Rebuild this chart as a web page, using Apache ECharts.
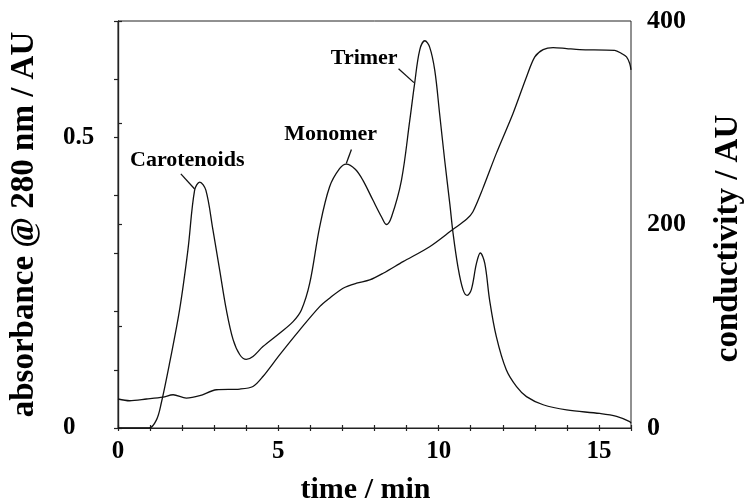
<!DOCTYPE html>
<html>
<head>
<meta charset="utf-8">
<script src="https://cdn.jsdelivr.net/npm/echarts@6/dist/echarts.min.js"></script>
<style>html,body{margin:0;padding:0;background:#fff;}#c{width:745px;height:501px;}</style>
</head>
<body>
<div id="c"></div>
<script>
// absorbance trace (left axis)
var absTime = [0, 0.97, 1.2, 1.35, 1.61, 1.92, 2.18, 2.39, 2.55, 2.74, 2.96, 3.17, 3.38, 3.59, 3.80, 4.0, 4.21, 4.52, 5.04, 5.46, 5.72, 5.98, 6.29, 6.60, 6.91, 7.12, 7.4, 7.64, 7.95, 8.22, 8.37, 8.53, 8.84, 9.10, 9.25, 9.41, 9.57, 9.72, 9.88, 10.03, 10.19, 10.35, 10.45, 10.6, 10.76, 10.89, 11.02, 11.18, 11.30, 11.44, 11.59, 11.80, 12.11, 12.43, 12.74, 13.26, 13.99, 15.03, 15.55, 15.96, 16];
var absValue = [0, 0, 0.014, 0.043, 0.112, 0.203, 0.306, 0.409, 0.423, 0.409, 0.341, 0.272, 0.203, 0.152, 0.126, 0.118, 0.123, 0.140, 0.163, 0.183, 0.203, 0.249, 0.346, 0.415, 0.446, 0.454, 0.445, 0.426, 0.392, 0.363, 0.350, 0.363, 0.426, 0.529, 0.592, 0.650, 0.666, 0.655, 0.615, 0.541, 0.460, 0.385, 0.335, 0.278, 0.238, 0.228, 0.238, 0.283, 0.301, 0.283, 0.220, 0.157, 0.100, 0.071, 0.054, 0.040, 0.031, 0.025, 0.020, 0.011, 0.008];
// conductivity trace (right axis)
var condTime = [0, 0.36, 0.89, 1.40, 1.72, 2.13, 2.55, 3.07, 3.80, 4.21, 4.52, 5.04, 5.67, 6.29, 6.6, 7.02, 7.44, 7.85, 8.27, 8.89, 9.72, 10.45, 10.87, 11.07, 11.38, 11.80, 12.32, 12.74, 13.0, 13.26, 13.57, 13.99, 14.4, 15.49, 15.71, 15.86, 15.96, 16];
var condValue = [28.5, 26.8, 28.5, 30.4, 32.7, 29.4, 31.7, 37.6, 38.3, 40.8, 50.6, 71.9, 96.5, 119.3, 127.6, 137.4, 142.3, 145.5, 152.1, 163.5, 178.2, 195.3, 205.1, 212.6, 235.5, 269.9, 309.1, 345, 364.7, 371.9, 373.9, 372.9, 371.9, 371.2, 368, 364.7, 358.2, 352];
// tick labels
var xTickLabels = [0, 5, 10, 15];
var leftTickLabels = [0, 0.5];
var rightTickLabels = [0, 200, 400];
// annotations (data coordinates on the absorbance axis)
var annoNames = ['Carotenoids', 'Monomer', 'Trimer'];
var annoPos = [[2.16, 0.461], [6.63, 0.505], [7.68, 0.636]];
var leaderFrom = [[1.96, 0.437], [7.28, 0.479], [8.75, 0.618]];
var leaderTo = [[2.39, 0.411], [7.12, 0.455], [9.23, 0.594]];

var FONT = 'Liberation Serif';
var chart = echarts.init(document.getElementById('c'), null, {renderer: 'canvas'});

function pairs(a, b) { return a.map(function (t, i) { return [t, b[i]]; }); }

var lineCol = '#111';
var option = {
  animation: false,
  backgroundColor: '#fff',
  grid: {left: 118, right: 114, top: 21, bottom: 73, show: true, borderColor: '#222', borderWidth: 1,
    containLabel: false, outerBoundsMode: 'none'},
  xAxis: [{
    type: 'value', min: 0, max: 16, interval: 1, position: 'bottom',
    name: 'time / min', nameLocation: 'middle', nameGap: 47,
    nameTextStyle: {fontFamily: FONT, fontWeight: 'bold', fontSize: 30, color: '#000', padding: [0, 18, 0, 0]},
    axisLine: {lineStyle: {color: '#222', width: 1.2}},
    axisTick: {inside: false, length: 3, lineStyle: {color: '#222', width: 1.2}},
    splitLine: {show: false},
    axisLabel: {margin: 11, fontFamily: FONT, fontWeight: 'bold', fontSize: 25, color: '#000',
      formatter: function (v) { return xTickLabels.indexOf(v) >= 0 ? String(v) : ''; }}
  }, {
    type: 'value', min: 0, max: 16, interval: 1, position: 'bottom',
    axisLine: {show: false},
    axisTick: {inside: true, length: 3, lineStyle: {color: '#222', width: 1.2}},
    axisLabel: {show: false}, splitLine: {show: false}
  }],
  yAxis: [{
    type: 'value', min: 0, max: 0.7, interval: 0.1, position: 'left',
    name: 'absorbance @ 280 nm / AU', nameLocation: 'middle', nameGap: 77,
    nameTextStyle: {fontFamily: FONT, fontWeight: 'bold', fontSize: 33, color: '#000'},
    axisLine: {show: true, lineStyle: {color: '#222', width: 1.2}},
    axisTick: {show: true, length: 4, lineStyle: {color: '#222', width: 1.2}},
    splitLine: {show: false},
    axisLabel: {margin: 55, align: 'left', fontFamily: FONT, fontWeight: 'bold', fontSize: 25, color: '#000',
      formatter: function (v) {
        var r = Math.round(v * 10) / 10;
        return leftTickLabels.indexOf(r) >= 0 ? String(r) : '';
      }}
  }, {
    type: 'value', min: 0, max: 400, interval: 100, position: 'right',
    name: 'conductivity / AU', nameLocation: 'middle', nameGap: 81,
    nameTextStyle: {fontFamily: FONT, fontWeight: 'bold', fontSize: 33, color: '#000', padding: [0, 28, 0, 0]},
    axisLine: {show: true, lineStyle: {color: '#222', width: 1.2}},
    axisTick: {show: true, length: 4, lineStyle: {color: '#222', width: 1.2}},
    splitLine: {show: false},
    axisLabel: {margin: 16, fontFamily: FONT, fontWeight: 'bold', fontSize: 26, color: '#000',
      formatter: function (v) { return rightTickLabels.indexOf(v) >= 0 ? String(v) : ''; }}
  }],
  series: [{
    name: 'absorbance', type: 'line', xAxisIndex: 0, yAxisIndex: 0,
    data: pairs(absTime, absValue), showSymbol: false, symbol: 'none', smooth: 0.35,
    lineStyle: {color: lineCol, width: 1.3}, silent: true
  }, {
    name: 'conductivity', type: 'line', xAxisIndex: 0, yAxisIndex: 1,
    data: pairs(condTime, condValue), showSymbol: false, symbol: 'none', smooth: 0.3,
    lineStyle: {color: lineCol, width: 1.3}, silent: true
  }, {
    name: 'leaders', type: 'lines', coordinateSystem: 'cartesian2d', xAxisIndex: 0, yAxisIndex: 0,
    data: leaderFrom.map(function (p, i) { return {coords: [p, leaderTo[i]]}; }),
    lineStyle: {color: lineCol, width: 1.3, opacity: 1}, symbol: 'none', silent: true
  }, {
    name: 'labels', type: 'scatter', xAxisIndex: 0, yAxisIndex: 0,
    data: annoPos.map(function (p, i) { return {value: p, name: annoNames[i]}; }),
    symbolSize: 1, itemStyle: {color: 'rgba(0,0,0,0)', opacity: 1}, silent: true,
    label: {show: true, position: 'inside', formatter: function (p) { return p.name; },
      fontFamily: FONT, fontWeight: 'bold', fontSize: 22, color: '#000', textBorderWidth: 0}
  }]
};
chart.setOption(option);
</script>
</body>
</html>
